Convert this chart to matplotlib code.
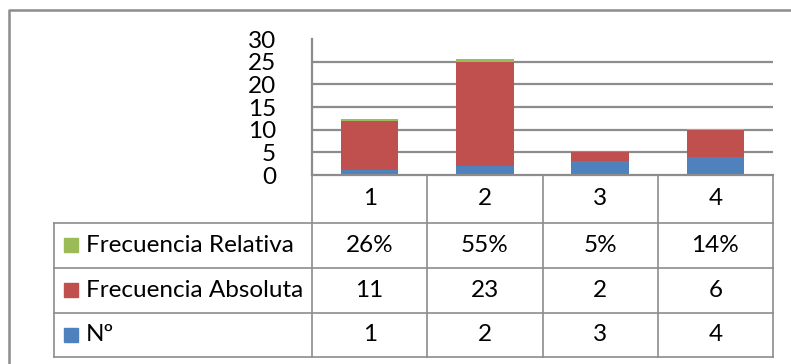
import matplotlib.pyplot as plt
import numpy as np

plt.rcParams['font.family'] = ['Lato', 'DejaVu Sans']

# data
categorias = ["1", "2", "3", "4"]
numero = [1, 2, 3, 4]
frec_absoluta = [11, 23, 2, 6]
frec_relativa = [0.26, 0.55, 0.05, 0.14]

series = [
    ("Nº", numero, "#4F81BD", [str(v) for v in numero]),
    ("Frecuencia Absoluta", frec_absoluta, "#C0504D", [str(v) for v in frec_absoluta]),
    ("Frecuencia Relativa", frec_relativa, "#9BBB59", ["%d%%" % round(v * 100) for v in frec_relativa]),
]

W, H = 791, 364
fig = plt.figure(figsize=(W / 100, H / 100), dpi=100)

grid_col = "#8c8c8c"
fs = 17.5

# pixel layout of the plot area / table
x0, x1 = 312, 773
y_top, y_zero = 39, 175
leg_x = 54
row_lines = [222.7, 268, 312.7, 357]

ax = fig.add_axes([x0 / W, 1 - y_zero / H, (x1 - x0) / W, (y_zero - y_top) / H])
x = np.arange(len(categorias))
bottom = np.zeros(len(categorias))
for name, vals, col, _ in series:
    ax.bar(x, vals, 0.5, bottom=bottom, color=col, zorder=3)
    bottom += np.array(vals, dtype=float)

ax.set_xlim(-0.5, len(categorias) - 0.5)
ax.set_ylim(0, 30)
ax.set_yticks(range(0, 31, 5))
for yv in range(5, 30, 5):
    ax.axhline(yv, color=grid_col, lw=1.6, zorder=1)
ax.set_xticks([])
ax.tick_params(axis='y', length=0, pad=26, labelsize=fs)
for s in ["top", "right", "bottom"]:
    ax.spines[s].set_visible(False)
ax.spines["left"].set_color(grid_col)
ax.spines["left"].set_linewidth(1.6)

# overlay for table and chart border, in pixel units
ov = fig.add_axes([0, 0, 1, 1], zorder=5)
ov.set_xlim(0, W)
ov.set_ylim(H, 0)
ov.axis("off")
ov.patch.set_alpha(0)

# chart border
ov.plot([9, 9, W], [H, 10, 10], color=grid_col, lw=1.8)

col_edges = np.linspace(x0, x1, len(categorias) + 1)
lw = 1.2
ov.plot([x0, x1], [y_zero, y_zero], color=grid_col, lw=1.6)
for xe in col_edges:
    ov.plot([xe, xe], [y_zero, row_lines[-1]], color=grid_col, lw=lw)
ov.plot([leg_x, leg_x], [row_lines[0], row_lines[-1]], color=grid_col, lw=lw)
for yl in row_lines:
    ov.plot([leg_x, x1], [yl, yl], color=grid_col, lw=lw)

centers = (col_edges[:-1] + col_edges[1:]) / 2
for cx, c in zip(centers, categorias):
    ov.text(cx, (y_zero + row_lines[0]) / 2, c, ha="center", va="center", fontsize=fs)

# rows: relativa on top, nº at bottom
for i, (name, vals, col, labels) in enumerate(series[::-1]):
    ya, yb = row_lines[i], row_lines[i + 1]
    yc = (ya + yb) / 2
    ov.add_patch(plt.Rectangle((64, yc - 7), 14, 14, color=col))
    ov.text(86, yc, name, ha="left", va="center", fontsize=fs)
    for cx, lab in zip(centers, labels):
        ov.text(cx, yc, lab, ha="center", va="center", fontsize=fs)

fig.savefig("out.png", dpi=100)
